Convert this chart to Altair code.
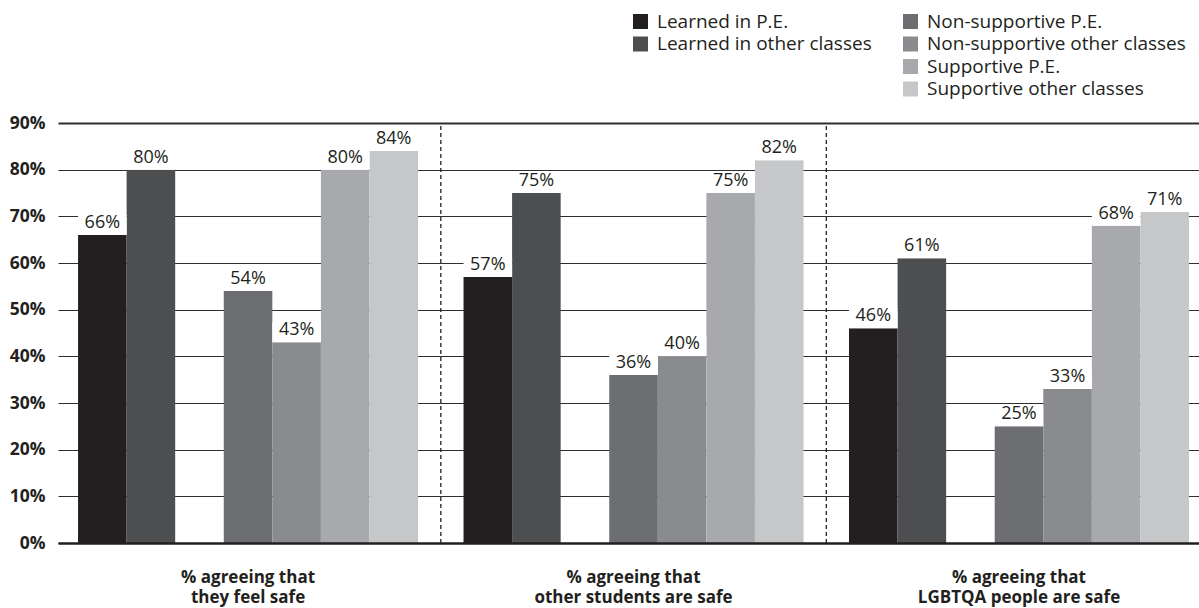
import altair as alt
import pandas as pd

# ---- data ----
groups = [
    "% agreeing that\nthey feel safe",
    "% agreeing that\nother students are safe",
    "% agreeing that\nLGBTQA people are safe",
]
learned_names = ["Learned in P.E.", "Learned in other classes"]
support_names = ["Non-supportive P.E.", "Non-supportive other classes",
                 "Supportive P.E.", "Supportive other classes"]

learned_pe = [66, 57, 46]
learned_other = [80, 75, 61]
nonsup_pe = [54, 36, 25]
nonsup_other = [43, 40, 33]
sup_pe = [80, 75, 68]
sup_other = [84, 82, 71]

learned_colors = ["#231f20", "#4d4e50"]
support_colors = ["#6d6e71", "#8a8b8e", "#a8a9ac", "#c6c7c9"]

series_values = {
    "Learned in P.E.": learned_pe,
    "Learned in other classes": learned_other,
    "Non-supportive P.E.": nonsup_pe,
    "Non-supportive other classes": nonsup_other,
    "Supportive P.E.": sup_pe,
    "Supportive other classes": sup_other,
}

rows = []
for s, vals in series_values.items():
    for g, v in zip(groups, vals):
        rows.append({"group": g, "series": s, "value": v,
                     "kind": "learned" if s in learned_names else "support"})
df = pd.DataFrame(rows)

sep_df = pd.DataFrame({"group": groups[1:], "lo": [0, 0], "hi": [90, 90]})

# slot order inside each group (blank slot = gap between the two sets)
slot_order = learned_names + [" "] + support_names

INK = "#231f20"
FONT = "Open Sans"

x_scale = alt.Scale(domain=groups, paddingInner=0.118, paddingOuter=0.039, align=0.667)
x_axis = alt.Axis(
    title=None, labelAngle=0, labelExpr="split(datum.label, '\\n')",
    labelFont=FONT, labelFontWeight="bold", labelFontSize=17, labelColor=INK,
    labelLineHeight=20, labelBaseline="alphabetic", labelPadding=39,
    ticks=False, grid=False, domain=True, domainColor=INK, domainWidth=2.5,
    zindex=1, labelLimit=400,
)
y_scale = alt.Scale(domain=[0, 90], nice=False, zero=True)
y_axis = alt.Axis(
    title=None, values=list(range(0, 91, 10)), labelExpr="datum.value + '%'",
    labelFont=FONT, labelFontWeight="bold", labelFontSize=17.5, labelColor=INK,
    labelPadding=13, ticks=False, domain=False, grid=True, gridColor="#2e2e2e",
    gridWidth={"condition": {"test": "datum.value == 90", "value": 2}, "value": 1},
    zindex=0,
)

X = alt.X("group:N", scale=x_scale, axis=x_axis, sort=groups)
XO = alt.XOffset("series:N", scale=alt.Scale(domain=slot_order, paddingInner=0, paddingOuter=0))
Y = alt.Y("value:Q", scale=y_scale, axis=y_axis)

legend_common = dict(
    orient="none", title=None, direction="vertical",
    symbolType="square", symbolSize=225, symbolStrokeWidth=0, symbolOpacity=1,
    labelFont=FONT, labelFontSize=19, labelColor=INK, labelOffset=7,
    rowPadding=2.5, padding=0, labelLimit=400,
)

base = alt.Chart(df)

bars_learned = base.transform_filter("datum.kind == 'learned'").mark_bar().encode(
    x=X, xOffset=XO, y=Y,
    color=alt.Color("series:N",
                    scale=alt.Scale(domain=learned_names, range=learned_colors),
                    legend=alt.Legend(legendX=573, legendY=-111, **legend_common)),
)

bars_support = base.transform_filter("datum.kind == 'support'").mark_bar().encode(
    x=X, xOffset=XO, y=Y,
    color=alt.Color("series:N",
                    scale=alt.Scale(domain=support_names, range=support_colors),
                    legend=alt.Legend(legendX=843, legendY=-111, **legend_common)),
)

label_boxes = base.transform_calculate(top="datum.value + 4.3").mark_bar(color="white").encode(
    x=X, xOffset=XO, y=Y, y2="top:Q",
)

labels = base.transform_calculate(label="datum.value + '%'").mark_text(
    dy=-7, baseline="alphabetic", align="center", font=FONT, fontSize=18, color=INK,
).encode(x=X, xOffset=XO, y=Y, text="label:N")

separators = alt.Chart(sep_df).mark_rule(
    xOffset=-22.7, strokeDash=[4, 3], strokeWidth=1.3, color=INK,
).encode(
    x=alt.X("group:N", scale=x_scale, axis=x_axis, sort=groups, bandPosition=0),
    y=alt.Y("lo:Q", scale=y_scale, axis=y_axis),
    y2="hi:Q",
)

chart = alt.layer(
    bars_learned, bars_support, label_boxes, labels, separators
).resolve_scale(color="independent").properties(
    width=1141, height=420,
    autosize=alt.AutoSizeParams(type="none"),
    padding={"left": 58, "top": 123, "right": 0, "bottom": 65},
    background="white",
).configure_view(stroke=None)

chart.save("out.html", embed_options={"renderer": "svg", "actions": False})
